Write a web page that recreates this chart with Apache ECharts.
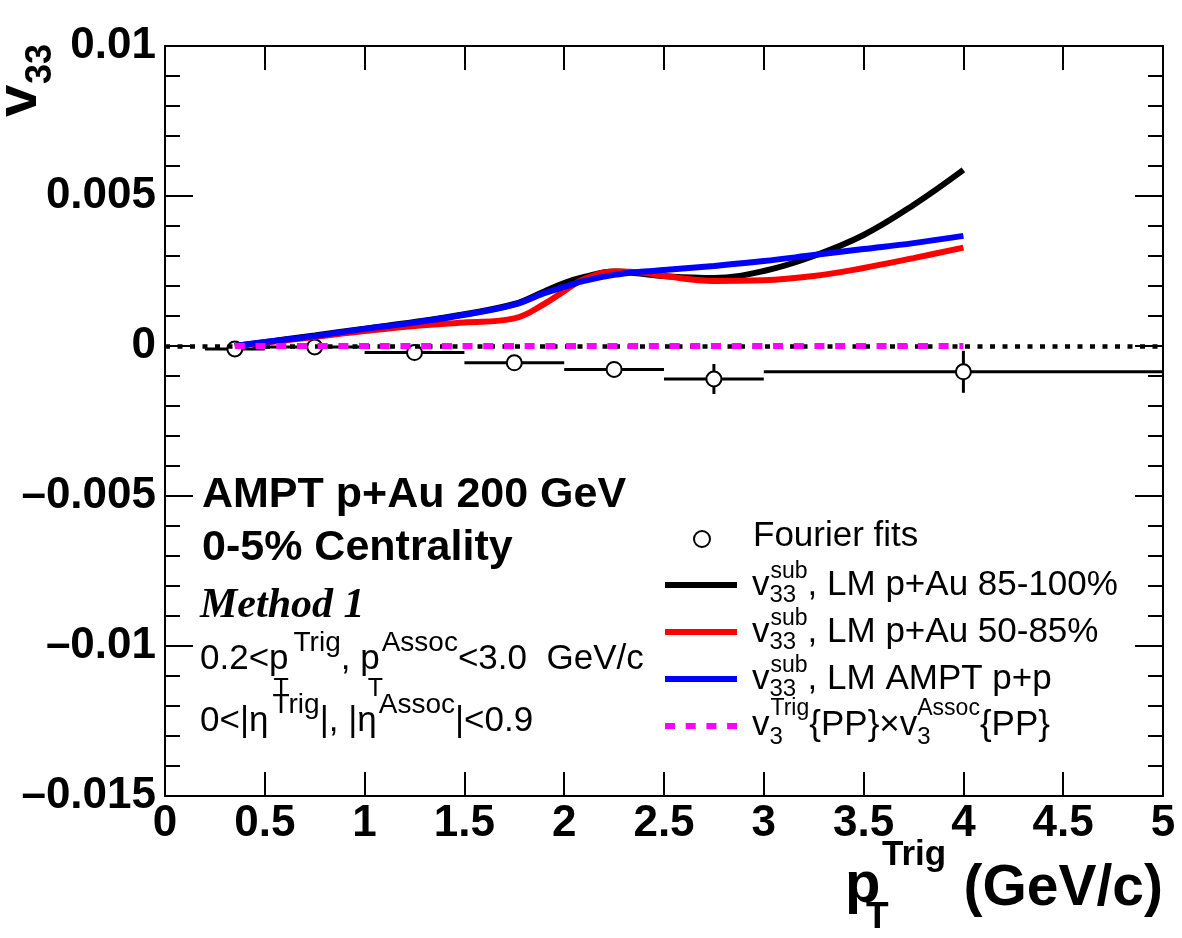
<!DOCTYPE html>
<html>
<head>
<meta charset="utf-8">
<script src="https://cdn.jsdelivr.net/npm/echarts@6/dist/echarts.min.js"></script>
<style>
html, body { margin: 0; padding: 0; background: #fff; }
#main { width: 1182px; height: 938px; }
</style>
</head>
<body>
<div id="main"></div>
<script>
// Fourier fits (open circles with error bars)
var fitX = [0.35, 0.75, 1.25, 1.75, 2.25, 2.75, 4.0];
var fitY = [-0.0001, -0.00003, -0.00022, -0.00056, -0.00078, -0.0011, -0.00086];
var fitXLo = [0.2, 0.5, 1.0, 1.5, 2.0, 2.5, 3.0];
var fitXHi = [0.5, 1.0, 1.5, 2.0, 2.5, 3.0, 5.0];
var fitYErr = [0.0001, 0.0001, 0.0001, 0.00015, 0.00015, 0.0005, 0.0007];

// LM template fit curves
var curveX = [0.35, 0.5, 0.75, 1.0, 1.25, 1.5, 1.75, 1.9, 2.0, 2.1, 2.25, 2.4, 2.5, 2.75, 3.0, 3.25, 3.5, 3.75, 4.0];
var lm85to100 = [0, 0.00013, 0.00035, 0.00058, 0.0008, 0.00106, 0.0014, 0.00182, 0.0021, 0.0023, 0.00248, 0.0024, 0.00233, 0.00227, 0.0025, 0.003, 0.0037, 0.0047, 0.00587];
var lm50to85 = [0, 0.00011, 0.0003, 0.0005, 0.00067, 0.00078, 0.00092, 0.0014, 0.00183, 0.00223, 0.00248, 0.00244, 0.00233, 0.00217, 0.00219, 0.00233, 0.0026, 0.00293, 0.00328];
var lmAmptPP = [0, 0.00013, 0.00033, 0.00057, 0.00078, 0.00104, 0.00138, 0.00176, 0.00197, 0.00217, 0.00237, 0.00248, 0.00253, 0.00267, 0.00283, 0.00303, 0.00323, 0.00343, 0.00367];

// v3{PP} x v3{PP}
var ppX = [0.35, 4.0];
var ppY = [0, 0];

var SANS = "'Liberation Sans', Arial, Helvetica, sans-serif";
var SERIF = "'Liberation Serif', 'Times New Roman', serif";

var chart = echarts.init(document.getElementById('main'));

var measureCtx = document.createElement('canvas').getContext('2d');
function fontOf(size, weight, family, style) {
    return (style || 'normal') + ' ' + (weight || 'normal') + ' ' + size + 'px ' + (family || SANS);
}
function textWidth(str, font) {
    measureCtx.font = font;
    return measureCtx.measureText(str).width;
}
// text placed by its baseline
function label(str, x, base, size, weight, family, style, align) {
    return {
        type: 'text', x: x, y: base - 0.345 * size, silent: true,
        style: {
            text: str, font: fontOf(size, weight, family, style), fill: '#000',
            align: align || 'left', textAlign: align || 'left',
            verticalAlign: 'middle', textVerticalAlign: 'middle'
        }
    };
}
// a line of text with stacked super/subscripts
function row(x, base, f, parts) {
    var els = [];
    parts.forEach(function (p) {
        if (typeof p === 'string') {
            els.push(label(p, x, base, f.size, f.weight));
            x += textWidth(p, fontOf(f.size, f.weight));
        } else {
            var adv = 0;
            if (p.sup) {
                var sx = x + (p.supDx || 0);
                els.push(label(p.sup, sx, base - f.rise, f.supSize, f.weight));
                adv = Math.max(adv, (p.supDx || 0) + textWidth(p.sup, fontOf(f.supSize, f.weight)));
            }
            if (p.sub) {
                var bx = x + (p.subDx || 0);
                els.push(label(p.sub, bx, base + f.drop, f.subSize, f.weight));
                adv = Math.max(adv, (p.subDx || 0) + textWidth(p.sub, fontOf(f.subSize, f.weight)));
            }
            x += adv;
        }
    });
    return els;
}

var graphics = [];

// annotation block
graphics.push(label('AMPT p+Au 200 GeV', 202, 510, 43, 'bold'));
graphics.push(label('0-5% Centrality', 202, 563, 43, 'bold'));
graphics.push(label('Method 1', 200, 621, 42, 'bold', SERIF, 'italic'));
var annoFont = { size: 35, weight: 'normal', supSize: 28, subSize: 25, rise: 18, drop: 27 };
graphics = graphics.concat(row(200, 671, annoFont, [
    '0.2<p', { sup: 'Trig', supDx: 5, sub: 'T', subDx: -15 }, ', p',
    { sup: 'Assoc', supDx: 2, sub: 'T', subDx: -12 }, '<3.0  GeV/c'
]));
graphics = graphics.concat(row(200, 733, annoFont, [
    '0<|\u03b7', { sup: 'Trig', supDx: 4 }, '|, |\u03b7', { sup: 'Assoc', supDx: 2 }, '|<0.9'
]));

// legend
var legFont = { size: 35, weight: 'normal', supSize: 23, subSize: 24, rise: 17, drop: 7 };
var legRows = [
    { base: 597, color: '#000', text: ', LM p+Au 85-100%' },
    { base: 644, color: '#ff0000', text: ', LM p+Au 50-85%' },
    { base: 691, color: '#0000ff', text: ', LM AMPT p+p' }
];
graphics.push({
    type: 'circle', shape: { cx: 702, cy: 539, r: 8 }, silent: true,
    style: { fill: '#fff', stroke: '#000', lineWidth: 2 }
});
graphics.push(label('Fourier fits', 753, 548, 35));
legRows.forEach(function (r) {
    graphics.push({
        type: 'line', shape: { x1: 665, y1: r.base - 12, x2: 737, y2: r.base - 12 }, silent: true,
        style: { stroke: r.color, lineWidth: 6 }
    });
    graphics = graphics.concat(row(752, r.base, legFont, ['v', { sup: 'sub', sub: '33', supDx: 1 }, r.text]));
});
graphics.push({
    type: 'line', shape: { x1: 665, y1: 726, x2: 737, y2: 726 }, silent: true,
    style: { stroke: '#ff00ff', lineWidth: 6, lineDash: [10, 10.7] }
});
graphics = graphics.concat(row(752, 737, { size: 35, weight: 'normal', supSize: 23, subSize: 24, rise: 20, drop: 9 }, [
    'v', { sup: 'Trig', sub: '3', supDx: 1 }, '{PP}\u00d7v', { sup: 'Assoc', sub: '3' }, '{PP}'
]));

// x axis title
graphics.push(label('p', 845, 906, 58, 'bold'));
graphics.push(label('T', 866, 931, 37, 'bold'));
graphics.push(label('Trig', 882, 867, 35, 'bold'));
graphics.push(label('(GeV/c)', 1163, 909, 57, 'bold', SANS, 'normal', 'right'));

// y axis title, rotated
graphics.push({
    type: 'group', x: 40, y: 117, rotation: Math.PI / 2, silent: true,
    children: [label('v', 0, 0, 58, 'bold'), label('33', 33, 13, 36, 'bold')]
});

function yFmt(v) {
    var s = String(+v.toFixed(4));
    return s.replace('-', '\u2013');
}
function xFmt(v) {
    return String(+v.toFixed(2));
}

var xBase = {
    type: 'value', min: 0, max: 5, interval: 0.5,
    axisLine: { onZero: false, lineStyle: { color: '#000', width: 2 } },
    axisTick: { inside: true, length: 24, lineStyle: { color: '#000', width: 2 } },
    splitLine: { show: false }
};
var yBase = {
    type: 'value', min: -0.015, max: 0.01, interval: 0.005,
    axisLine: { show: true, onZero: false, lineStyle: { color: '#000', width: 2 } },
    axisTick: { inside: true, length: 28, lineStyle: { color: '#000', width: 2 } },
    minorTick: { show: true, splitNumber: 5, length: 15, lineStyle: { color: '#000', width: 2 } },
    splitLine: { show: false },
    minorSplitLine: { show: false }
};

var option = {
    backgroundColor: '#fff',
    animation: false,
    grid: { left: 165, right: 19, top: 46, bottom: 142, containLabel: false },
    xAxis: [
        echarts.util.merge({
            position: 'bottom',
            axisLabel: { color: '#000', fontSize: 44, fontWeight: 'bold', fontFamily: SANS, margin: 6, formatter: xFmt }
        }, xBase, true),
        echarts.util.merge({ position: 'top', axisLabel: { show: false } }, xBase, true)
    ],
    yAxis: [
        echarts.util.merge({
            position: 'left',
            axisLabel: { color: '#000', fontSize: 44, fontWeight: 'bold', fontFamily: SANS, margin: 9, formatter: yFmt }
        }, yBase, true),
        echarts.util.merge({ position: 'right', axisLabel: { show: false } }, yBase, true)
    ],
    graphic: { elements: graphics },
    series: [
        {
            name: 'Fourier fits errors',
            type: 'custom',
            z: 1,
            data: fitX.map(function (x, i) { return [x, fitY[i], fitXLo[i], fitXHi[i], fitYErr[i]]; }),
            encode: { x: 0, y: 1 },
            renderItem: function (params, api) {
                var x = api.value(0), y = api.value(1), err = api.value(4);
                var c = api.coord([x, y]);
                var lo = api.coord([api.value(2), y]);
                var hi = api.coord([api.value(3), y]);
                var top = api.coord([x, y + err]);
                var bot = api.coord([x, y - err]);
                var st = { stroke: '#000', lineWidth: 3 };
                return {
                    type: 'group',
                    children: [
                        { type: 'line', shape: { x1: lo[0], y1: c[1], x2: hi[0], y2: c[1] }, style: st },
                        { type: 'line', shape: { x1: c[0], y1: top[1], x2: c[0], y2: bot[1] }, style: st }
                    ]
                };
            }
        },
        {
            name: 'Fourier fits',
            type: 'scatter',
            z: 2,
            symbol: 'circle',
            symbolSize: 15,
            itemStyle: { color: '#fff', borderColor: '#000', borderWidth: 2, opacity: 1 },
            data: fitX.map(function (x, i) { return [x, fitY[i]]; })
        },
        {
            name: 'zero',
            type: 'line',
            z: 3,
            data: [],
            markLine: {
                silent: true,
                symbol: 'none',
                label: { show: false },
                lineStyle: { color: '#000', width: 4.5, type: [5, 7.5] },
                data: [{ yAxis: 0 }]
            }
        },
        {
            name: 'LM p+Au 85-100%',
            type: 'line', z: 4, smooth: 0.4, symbol: 'none',
            lineStyle: { color: '#000', width: 6 },
            data: curveX.map(function (x, i) { return [x, lm85to100[i]]; })
        },
        {
            name: 'LM p+Au 50-85%',
            type: 'line', z: 5, smooth: 0.4, symbol: 'none',
            lineStyle: { color: '#ff0000', width: 6 },
            data: curveX.map(function (x, i) { return [x, lm50to85[i]]; })
        },
        {
            name: 'LM AMPT p+p',
            type: 'line', z: 6, smooth: 0.4, symbol: 'none',
            lineStyle: { color: '#0000ff', width: 6 },
            data: curveX.map(function (x, i) { return [x, lmAmptPP[i]]; })
        },
        {
            name: 'v3{PP} x v3{PP}',
            type: 'line', z: 7, symbol: 'none',
            lineStyle: { color: '#ff00ff', width: 6, type: [10, 10.7] },
            data: ppX.map(function (x, i) { return [x, ppY[i]]; })
        }
    ]
};

chart.setOption(option);
</script>
</body>
</html>
